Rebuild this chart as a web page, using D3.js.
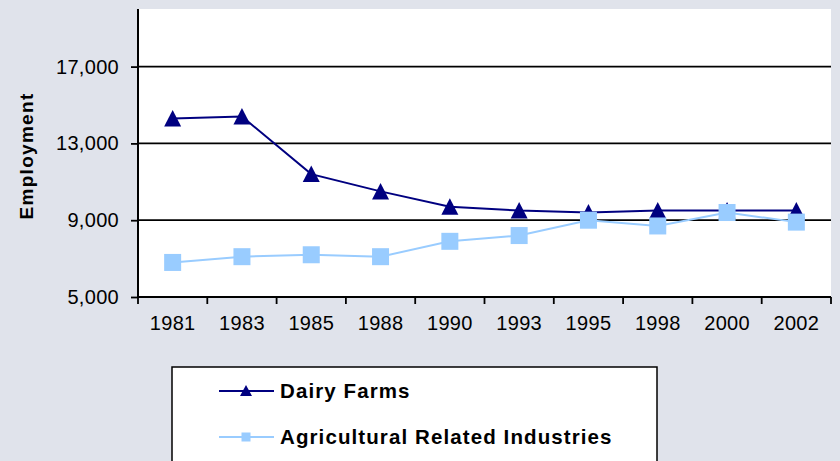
<!DOCTYPE html>
<meta charset="utf-8">
<style>
body { margin: 0; background: #e0e3eb; }
svg { font-family: "Liberation Sans", Arial, sans-serif; display: block; }
.tick-label { font-size: 20px; letter-spacing: 0.3px; fill: #000; }
.axis-title { font-size: 19px; font-weight: bold; letter-spacing: 1.3px; }
.legend-text { font-size: 20.5px; font-weight: bold; letter-spacing: 1.1px; }
</style>
<svg></svg>
<script src="https://d3js.org/d3.v7.min.js"></script>
<script>

var years = ['1981', '1983', '1985', '1988', '1990', '1993', '1995', '1998', '2000', '2002'];
var dairyFarms = [14300, 14400, 11400, 10500, 9700, 9500, 9400, 9500, 9500, 9500];
var agriRelated = [6800, 7100, 7200, 7100, 7900, 8200, 9000, 8700, 9400, 8900];
var yTicks = [5000, 9000, 13000, 17000];
var seriesNames = ['Dairy Farms', 'Agricultural Related Industries'];

var width = 840, height = 461;
var plot = { left: 138, right: 831, top: 9, bottom: 297 };

var svg = d3.select('svg')
  .attr('width', width)
  .attr('height', height);

svg.append('rect')
  .attr('width', width).attr('height', height)
  .attr('fill', '#e0e3eb');

svg.append('rect')
  .attr('x', plot.left).attr('y', plot.top)
  .attr('width', plot.right - plot.left)
  .attr('height', plot.bottom - plot.top)
  .attr('fill', '#fff');

var x = d3.scaleBand().domain(years).range([plot.left, plot.right]).padding(0);
var y = d3.scaleLinear().domain([5000, 20000]).range([plot.bottom, plot.top]);

// gridlines
svg.append('g')
  .selectAll('line')
  .data(yTicks.filter(function (d) { return d > 5000; }))
  .enter().append('line')
  .attr('x1', plot.left).attr('x2', plot.right)
  .attr('y1', function (d) { return y(d); })
  .attr('y2', function (d) { return y(d); })
  .attr('stroke', '#000')
  .attr('stroke-width', 1.8);

// y axis
var yAxis = svg.append('g')
  .attr('transform', 'translate(' + plot.left + ',0)')
  .call(d3.axisLeft(y).tickValues(yTicks).tickSize(7).tickPadding(12)
    .tickFormat(d3.format(',')));
yAxis.select('.domain').attr('d', 'M0,' + plot.top + 'V' + plot.bottom)
  .attr('stroke', '#000').attr('stroke-width', 2);
yAxis.selectAll('.tick line').attr('stroke', '#000').attr('stroke-width', 1.8);
yAxis.selectAll('.tick text').attr('class', 'tick-label');
yAxis.attr('font-size', null).attr('font-family', null);

// x axis
var xAxis = svg.append('g')
  .attr('transform', 'translate(0,' + plot.bottom + ')')
  .call(d3.axisBottom(x).tickSize(0).tickPadding(19));
xAxis.select('.domain').attr('d', 'M' + plot.left + ',0H' + plot.right)
  .attr('stroke', '#000').attr('stroke-width', 2);
xAxis.selectAll('.tick text').attr('class', 'tick-label');
xAxis.attr('font-size', null).attr('font-family', null);

var bounds = years.map(function (d) { return x(d); }).concat([plot.right]);
xAxis.selectAll('.bound')
  .data(bounds)
  .enter().append('line')
  .attr('x1', function (d) { return d; })
  .attr('x2', function (d) { return d; })
  .attr('y1', 0).attr('y2', 7)
  .attr('stroke', '#000').attr('stroke-width', 1.8);

// axis title
svg.append('text')
  .attr('class', 'axis-title')
  .attr('transform', 'translate(33,156) rotate(-90)')
  .attr('text-anchor', 'middle')
  .text('Employment');

var cx = function (d, i) { return x(years[i]) + x.bandwidth() / 2; };
var line = d3.line()
  .x(function (d, i) { return cx(d, i); })
  .y(function (d) { return y(d); });

var triangle = 'M0,-8.5L8.5,8L-8.5,8Z';

// dairy farms
svg.append('path')
  .datum(dairyFarms)
  .attr('d', line)
  .attr('fill', 'none')
  .attr('stroke', '#000080')
  .attr('stroke-width', 2);

svg.append('g')
  .selectAll('path')
  .data(dairyFarms)
  .enter().append('path')
  .attr('d', triangle)
  .attr('transform', function (d, i) { return 'translate(' + cx(d, i) + ',' + y(d) + ')'; })
  .attr('fill', '#000080');

// agricultural related
svg.append('path')
  .datum(agriRelated)
  .attr('d', line)
  .attr('fill', 'none')
  .attr('stroke', '#99ccff')
  .attr('stroke-width', 2);

svg.append('g')
  .selectAll('rect')
  .data(agriRelated)
  .enter().append('rect')
  .attr('x', function (d, i) { return cx(d, i) - 8.5; })
  .attr('y', function (d) { return y(d) - 8.5; })
  .attr('width', 17).attr('height', 17)
  .attr('fill', '#99ccff');

// legend
var legend = svg.append('g');
legend.append('rect')
  .attr('x', 172).attr('y', 367)
  .attr('width', 485).attr('height', 120)
  .attr('fill', '#fff')
  .attr('stroke', '#000')
  .attr('stroke-width', 1.5);

var legendRows = [
  { name: seriesNames[0], color: '#000080', y: 391, mark: 'tri' },
  { name: seriesNames[1], color: '#99ccff', y: 437, mark: 'sq' }
];

legendRows.forEach(function (r) {
  legend.append('line')
    .attr('x1', 219).attr('x2', 274)
    .attr('y1', r.y).attr('y2', r.y)
    .attr('stroke', r.color).attr('stroke-width', 2);
  if (r.mark === 'tri') {
    legend.append('path')
      .attr('d', 'M0,-6L6,5L-6,5Z')
      .attr('transform', 'translate(246,' + r.y + ')')
      .attr('fill', r.color);
  } else {
    legend.append('rect')
      .attr('x', 241.5).attr('y', r.y - 4.5)
      .attr('width', 9).attr('height', 9)
      .attr('fill', r.color);
  }
  legend.append('text')
    .attr('class', 'legend-text')
    .attr('x', 280).attr('y', r.y)
    .attr('dy', '0.35em')
    .text(r.name);
});

</script>
